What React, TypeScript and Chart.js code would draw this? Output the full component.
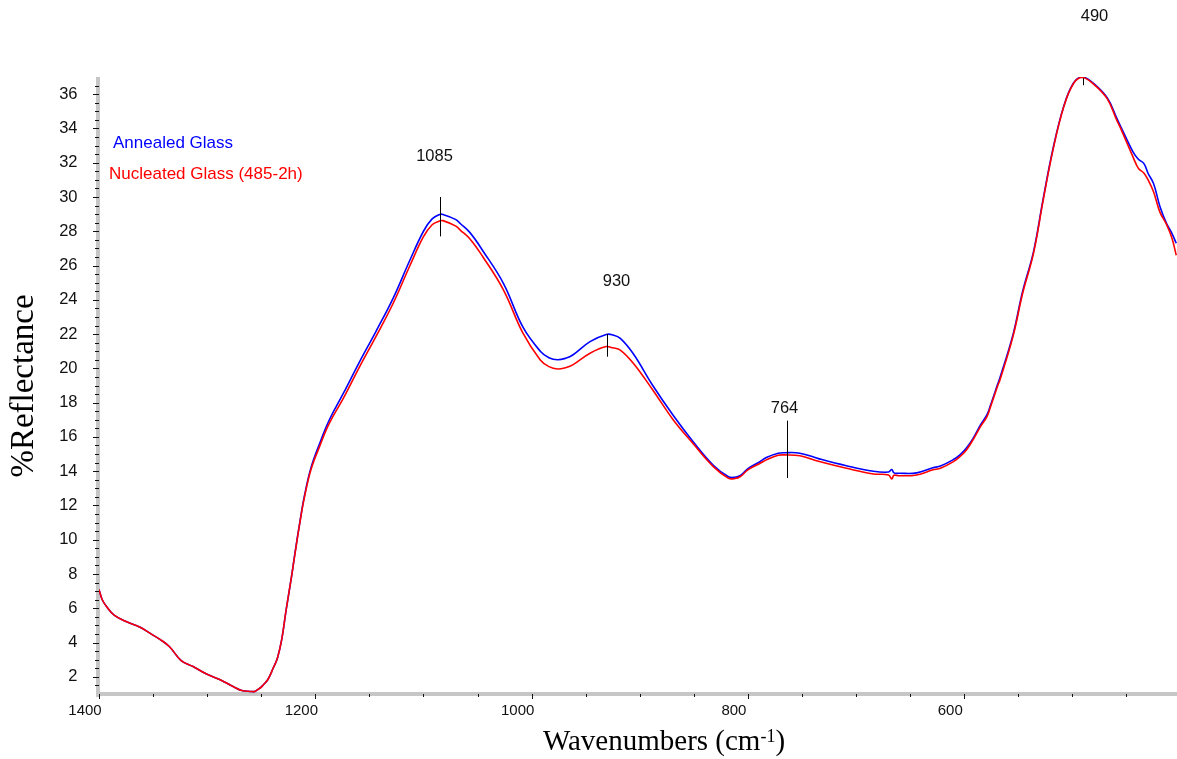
import React, { useEffect, useRef } from 'react';
import { Chart, registerables } from 'chart.js';

Chart.register(...registerables);

// Wavenumber grid (cm-1) shared by both spectra
const wavenumbers = [
  1400, 1397, 1393, 1386, 1375, 1362, 1353, 1344, 1335, 1324,
  1313, 1301, 1288, 1276, 1268, 1260, 1256, 1251, 1248, 1244,
  1239, 1235, 1231, 1227, 1222, 1219, 1214, 1210, 1204, 1196,
  1187, 1174, 1159, 1144, 1128, 1113, 1100, 1092, 1085, 1082,
  1070, 1066, 1057, 1045, 1026, 1008, 992, 984, 976, 968,
  962, 946, 931, 925, 918, 906, 888, 869, 851, 832,
  818, 812, 807, 800, 789, 783, 772, 766, 752, 734,
  709, 684, 670, 667, 665, 660, 644, 629, 622, 610,
  604, 598, 592, 585, 579, 576, 569, 567, 555, 546,
  536, 527, 518, 508, 499, 491, 481, 468, 459, 456,
  444, 439, 434, 430, 425, 419, 413, 408, 404,
];

// %Reflectance, annealed glass
const annealed = [
  7.1, 6.5, 6.1, 5.6, 5.23, 4.9, 4.55, 4.2, 3.77, 2.95,
  2.6, 2.18, 1.83, 1.44, 1.2, 1.15, 1.15, 1.35, 1.54, 1.83,
  2.5, 3.1, 4.2, 5.9, 7.85, 9.15, 11.15, 12.58, 14.2, 15.62,
  17.0, 18.55, 20.4, 22.15, 24.1, 26.25, 28.0, 28.72, 28.98, 28.98,
  28.68, 28.45, 27.92, 26.85, 24.95, 22.4, 21.0, 20.62, 20.5, 20.6,
  20.78, 21.56, 21.98, 21.95, 21.75, 20.85, 19.0, 17.25, 15.75, 14.35,
  13.68, 13.65, 13.75, 14.15, 14.55, 14.8, 15.05, 15.08, 15.05, 14.72,
  14.32, 14.0, 13.95, 14.1, 13.9, 13.88, 13.9, 14.2, 14.3, 14.68,
  14.95, 15.35, 15.9, 16.7, 17.3, 17.8, 19.1, 19.45, 21.95, 24.5,
  26.8, 29.9, 32.8, 35.3, 36.65, 37.0, 36.66, 35.8, 34.6, 34.2,
  32.63, 32.2, 31.96, 31.37, 30.79, 29.43, 28.46, 27.88, 27.3,
];

// %Reflectance, nucleated glass (485-2h)
const nucleated = [
  7.1, 6.5, 6.1, 5.6, 5.23, 4.9, 4.55, 4.2, 3.77, 2.95,
  2.6, 2.18, 1.83, 1.44, 1.2, 1.15, 1.15, 1.35, 1.54, 1.83,
  2.5, 3.1, 4.2, 5.9, 7.85, 9.1, 11.1, 12.5, 14.1, 15.45,
  16.8, 18.26, 20.1, 21.85, 23.8, 25.93, 27.68, 28.38, 28.6, 28.62,
  28.3, 28.07, 27.55, 26.5, 24.57, 22.05, 20.49, 20.1, 19.96, 20.05,
  20.2, 20.88, 21.27, 21.2, 21.07, 20.3, 18.74, 16.99, 15.63, 14.27,
  13.59, 13.57, 13.69, 14.08, 14.45, 14.66, 14.93, 14.95, 14.9, 14.56,
  14.17, 13.84, 13.78, 13.55, 13.76, 13.73, 13.78, 14.08, 14.17, 14.56,
  14.85, 15.24, 15.82, 16.6, 17.18, 17.7, 19.0, 19.32, 21.85, 24.38,
  26.71, 29.82, 32.73, 35.26, 36.62, 36.97, 36.62, 35.75, 34.48, 34.09,
  32.34, 31.67, 31.4, 31.0, 30.3, 29.1, 28.4, 27.6, 26.6,
];

const seriesNames = ['Annealed Glass', 'Nucleated Glass (485-2h)'];
const xTickValues = [1400, 1200, 1000, 800, 600];
const yTickValues = [2, 4, 6, 8, 10, 12, 14, 16, 18, 20, 22, 24, 26, 28, 30, 32, 34, 36];
const peakWavenumbers = [1085, 930, 764, 490];

// Marker spans (in %R) and label placement for each labelled peak
const peakMarkLayout = [
  { yFrom: 27.7, yTo: 30.0, labelY: 32.1, dx: -6 },
  { yFrom: 20.68, yTo: 22.0, labelY: 24.8, dx: 9 },
  { yFrom: 13.6, yTo: 16.95, labelY: 17.4, dx: -3 },
  { yFrom: 36.52, yTo: 36.93, labelY: 40.27, dx: 11 },
];

const SANS = '"Liberation Sans", Arial, sans-serif';
const SERIF = '"Liberation Serif", "Times New Roman", serif';

const frame = {
  id: 'spectrumFrame',
  beforeDatasetsDraw(chart: any) {
    const { ctx, chartArea, scales } = chart;
    const x = scales.x;
    const y = scales.y;
    ctx.save();
    // grey axis bars
    ctx.fillStyle = '#c6c6c6';
    ctx.fillRect(96, chartArea.top, 4, chartArea.bottom - chartArea.top + 3);
    ctx.fillRect(96, chartArea.bottom - 2, chartArea.right - 96, 4);
    // y ticks: major every 2, minor every 0.5
    ctx.strokeStyle = '#111';
    ctx.lineWidth = 1;
    for (let v = 1.5; v <= 36.5; v += 0.5) {
      const py = Math.round(y.getPixelForValue(v)) + 0.5;
      const major = v % 2 === 0;
      ctx.beginPath();
      ctx.moveTo(major ? 93 : 95, py);
      ctx.lineTo(99, py);
      ctx.stroke();
    }
    // x ticks: major every 200, minor every 50
    for (let v = 1400; v > x.min; v -= 50) {
      const px = Math.round(x.getPixelForValue(v)) + 0.5;
      const major = v % 200 === 0;
      ctx.beginPath();
      ctx.moveTo(px, chartArea.bottom);
      ctx.lineTo(px, chartArea.bottom + (major ? 5 : 3));
      ctx.stroke();
    }
    ctx.restore();
  },
  afterDatasetsDraw(chart: any) {
    const { ctx, scales } = chart;
    const x = scales.x;
    const y = scales.y;
    ctx.save();

    // peak markers
    ctx.strokeStyle = '#000';
    ctx.lineWidth = 1;
    ctx.fillStyle = '#111';
    ctx.font = `16.5px ${SANS}`;
    ctx.textAlign = 'center';
    ctx.textBaseline = 'alphabetic';
    peakWavenumbers.forEach((w, i) => {
      const m = peakMarkLayout[i];
      const px = Math.round(x.getPixelForValue(w)) + 0.5;
      ctx.beginPath();
      ctx.moveTo(px, y.getPixelForValue(m.yFrom));
      ctx.lineTo(px, y.getPixelForValue(m.yTo));
      ctx.stroke();
      ctx.fillText(String(w), px + m.dx, y.getPixelForValue(m.labelY));
    });

    // series labels
    ctx.textAlign = 'left';
    ctx.font = `17px ${SANS}`;
    ctx.fillStyle = '#0000ff';
    ctx.fillText(seriesNames[0], 113, 147.5);
    ctx.fillStyle = '#ff0000';
    ctx.fillText(seriesNames[1], 109, 179);

    // y axis title
    ctx.fillStyle = '#000';
    ctx.save();
    ctx.translate(33, 386);
    ctx.rotate(-Math.PI / 2);
    ctx.textAlign = 'center';
    ctx.font = `33px ${SERIF}`;
    ctx.fillText('%Reflectance', 0, 0);
    ctx.restore();

    // x axis title with superscript
    const main = 'Wavenumbers (cm';
    const sup = '-1';
    const close = ')';
    ctx.textAlign = 'left';
    ctx.font = `29px ${SERIF}`;
    const wMain = ctx.measureText(main).width;
    const wClose = ctx.measureText(close).width;
    ctx.font = `18px ${SERIF}`;
    const wSup = ctx.measureText(sup).width;
    let sx = 664 - (wMain + wSup + wClose) / 2;
    ctx.font = `29px ${SERIF}`;
    ctx.fillText(main, sx, 750);
    sx += wMain;
    ctx.font = `18px ${SERIF}`;
    ctx.fillText(sup, sx, 741.5);
    sx += wSup;
    ctx.font = `29px ${SERIF}`;
    ctx.fillText(close, sx, 750);

    ctx.restore();
  },
};

export default function App() {
  const canvasRef = useRef<HTMLCanvasElement | null>(null);

  useEffect(() => {
    const canvas = canvasRef.current;
    if (!canvas) return;
    const toPoints = (vals: number[]) => wavenumbers.map((w, i) => ({ x: w, y: vals[i] }));

    const chart = new Chart(canvas, {
      type: 'line',
      data: {
        datasets: [
          {
            label: seriesNames[1],
            data: toPoints(nucleated),
            borderColor: '#ff0000',
            borderWidth: 1.6,
            pointRadius: 0,
            fill: false,
            tension: 0.4,
            order: 0,
          },
          {
            label: seriesNames[0],
            data: toPoints(annealed),
            borderColor: '#0000ff',
            borderWidth: 1.6,
            pointRadius: 0,
            fill: false,
            tension: 0.4,
            order: 1,
          },
        ],
      },
      options: {
        animation: false,
        responsive: false,
        events: [],
        layout: { padding: { top: 77, right: 0, left: 0, bottom: 0 } },
        plugins: {
          legend: { display: false },
          tooltip: { enabled: false },
          title: { display: false },
        },
        scales: {
          x: {
            type: 'linear',
            reverse: true,
            min: 403.3,
            max: 1400,
            grid: { display: false, drawTicks: false },
            border: { display: false },
            ticks: {
              color: '#111',
              font: { family: SANS, size: 15 },
              padding: 8,
              labelOffset: -14,
              maxRotation: 0,
              autoSkip: false,
              callback: (value: any) => String(value),
            },
            afterBuildTicks: (scale: any) => {
              scale.ticks = xTickValues.map((v) => ({ value: v }));
            },
            afterFit: (scale: any) => {
              scale.height = 65;
            },
          },
          y: {
            type: 'linear',
            min: 1,
            max: 37,
            grid: { display: false, drawTicks: false },
            border: { display: false },
            ticks: {
              color: '#111',
              font: { family: SANS, size: 16.5 },
              padding: 21.5,
              autoSkip: false,
              callback: (value: any) => String(value),
            },
            afterBuildTicks: (scale: any) => {
              scale.ticks = yTickValues.map((v) => ({ value: v }));
            },
            afterFit: (scale: any) => {
              scale.width = 99;
            },
          },
        },
      },
      plugins: [frame],
    });

    return () => chart.destroy();
  }, []);

  return (
    <div style={{ position: 'fixed', left: 0, top: 0, width: 1177, height: 759, background: '#fff' }}>
      <canvas ref={canvasRef} width={1177} height={759} style={{ display: 'block' }} />
    </div>
  );
}
